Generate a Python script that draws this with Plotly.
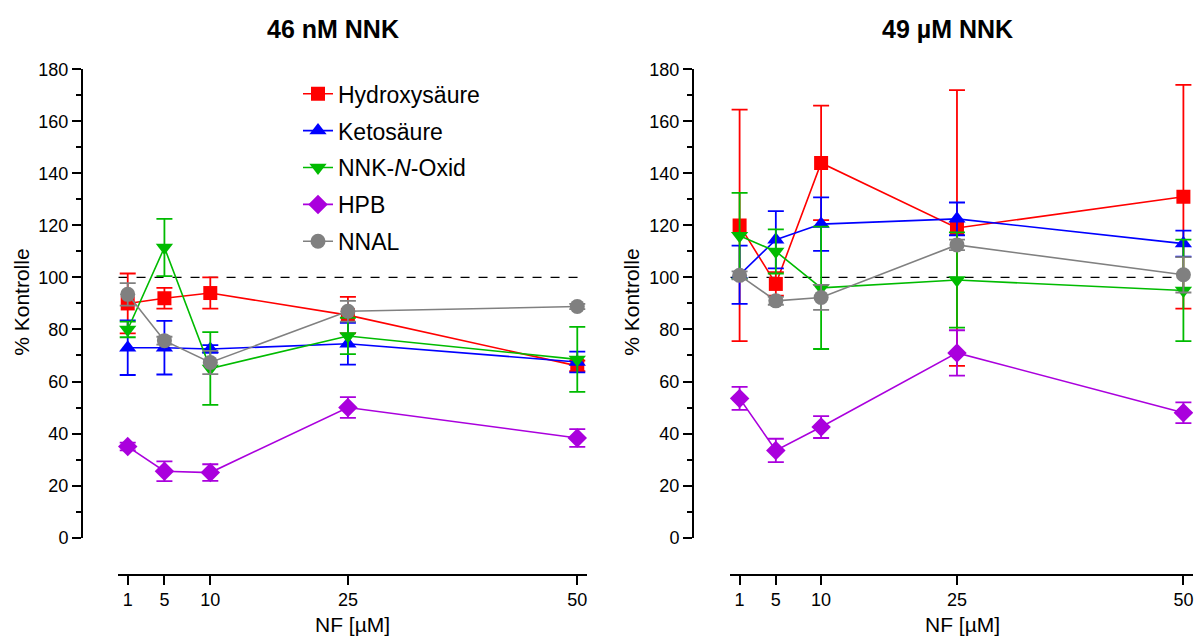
import plotly.graph_objects as go

W, H = 1203, 640

# ---------- data ----------
nf_conc = [1, 5, 10, 25, 50]
tick_labels = ["1", "5", "10", "25", "50"]
series_names = ["Hydroxysäure", "Ketosäure", "NNK-<i>N</i>-Oxid", "HPB", "NNAL"]
panel_titles = ["<b>46 nM NNK</b>", "<b>49 µM NNK</b>"]

# 46 nM NNK panel
low_hydroxy = [90, 92, 94, 85.5, 66]
low_hydroxy_err = [11.5, 4, 6, 7, 2]
low_keto = [73, 73, 72.5, 74.5, 67.5]
low_keto_err = [10.5, 10.3, 1.5, 8, 4]
low_oxid = [80, 111.5, 65, 77.5, 68.5]
low_oxid_err = [3, 11, 14, 7, 12.5]
low_hpb = [35, 25.5, 25, 50, 38.3]
low_hpb_err = [1.5, 3.8, 3.2, 4, 3.4]
low_nnal = [93.5, 75.7, 67.3, 87, 88.8]
low_nnal_err = [4.3, 1.5, 4.5, 4, 1]

# 49 µM NNK panel
high_hydroxy = [120, 97.5, 144, 119, 131]
high_hydroxy_err = [44.5, 4.5, 22, 53, 43]
high_keto = [101, 114.5, 120.5, 122.5, 113]
high_keto_err = [11.2, 11, 10.3, 6.3, 5]
high_oxid = [116, 110, 96, 99, 95]
high_oxid_err = [16.5, 8.5, 23.5, 18.3, 19.5]
high_hpb = [53.5, 33.5, 42.5, 71, 48]
high_hpb_err = [4.4, 4.5, 4.2, 8.7, 4]
high_nnal = [100.8, 91, 92.3, 112.5, 101]
high_nnal_err = [1.5, 1.5, 4.8, 2, 6.8]

control_level = 100

# ---------- styles ----------
colors = ["#FF0000", "#0000FF", "#00BB00", "#AA00DD", "#808080"]
symbols = ["square", "triangle-up", "triangle-down", "diamond", "circle"]
msizes = [14, 15, 15, 15, 15]

FONT = "Liberation Sans, Arial, sans-serif"

fig = go.Figure()

panels = [
    ("x", "y", [low_hydroxy, low_keto, low_oxid, low_hpb, low_nnal],
     [low_hydroxy_err, low_keto_err, low_oxid_err, low_hpb_err, low_nnal_err], True),
    ("x2", "y2", [high_hydroxy, high_keto, high_oxid, high_hpb, high_nnal],
     [high_hydroxy_err, high_keto_err, high_oxid_err, high_hpb_err, high_nnal_err], False),
]

for xa, ya, vals, errs, show in panels:
    for i, name in enumerate(series_names):
        fig.add_trace(go.Scatter(
            x=nf_conc, y=vals[i], name=name, xaxis=xa, yaxis=ya,
            mode="lines+markers", legendgroup=f"g{i}", showlegend=show,
            line=dict(color=colors[i], width=1.6),
            marker=dict(symbol=symbols[i], size=msizes[i], color=colors[i],
                        line=dict(width=0)),
            error_y=dict(type="data", array=errs[i], visible=True,
                         color=colors[i], thickness=1.8, width=8),
        ))

# layout positions given in figure pixels
def px_x(p):
    return p / W

def px_y(p):
    return 1 - p / H

xrange_ = [-0.06, 51.06]
ydom = [px_y(536.4), px_y(52.9)]

axis_common_x = dict(
    range=xrange_, tickmode="array", tickvals=nf_conc, ticktext=tick_labels,
    showline=True, linecolor="black", linewidth=2, ticks="outside", ticklen=9,
    tickwidth=1.5, tickcolor="black", showgrid=False, zeroline=False,
    tickfont=dict(family=FONT, size=18, color="black"),
    anchor="free", position=px_y(574.7),
)
axis_common_y = dict(
    range=[0, 180], domain=ydom, tickmode="linear", tick0=0, dtick=20,
    showline=True, linecolor="black", linewidth=2, ticks="outside", ticklen=9,
    tickwidth=1.5, tickcolor="black", showgrid=False, zeroline=False,
    minor=dict(dtick=10, ticklen=5, ticks="outside", tickwidth=1.5,
               tickcolor="black", showgrid=False),
    tickfont=dict(family=FONT, size=18, color="black"),
    anchor="free",
)

fig.update_layout(
    width=W, height=H,
    margin=dict(l=0, r=0, t=0, b=0),
    paper_bgcolor="white", plot_bgcolor="white",
    font=dict(family=FONT, color="black"),
    xaxis=dict(domain=[px_x(110), px_x(579)], **axis_common_x),
    xaxis2=dict(domain=[px_x(722), px_x(1185)], **axis_common_x),
    yaxis=dict(position=px_x(74), **axis_common_y),
    yaxis2=dict(position=px_x(685), **axis_common_y),
    legend=dict(x=px_x(290), y=px_y(56), xanchor="left", yanchor="top",
                bgcolor="rgba(0,0,0,0)", font=dict(family=FONT, size=23, color="black"),
                tracegroupgap=4, itemwidth=30),
    showlegend=True,
)

# control reference lines
fig.add_shape(type="line", xref="x", yref="y", x0=0, x1=50.2,
              y0=control_level, y1=control_level,
              line=dict(color="black", width=1.2, dash="dash"), layer="below")
fig.add_shape(type="line", xref="x2", yref="y2", x0=0, x1=51.06,
              y0=control_level, y1=control_level,
              line=dict(color="black", width=1.2, dash="dash"), layer="below")

annots = [
    dict(text=panel_titles[0], x=px_x(325), y=px_y(11), size=25),
    dict(text=panel_titles[1], x=px_x(939), y=px_y(11), size=25),
    dict(text="NF [µM]", x=px_x(344), y=px_y(626), size=21),
    dict(text="NF [µM]", x=px_x(954), y=px_y(626), size=21),
    dict(text="% Kontrolle", x=px_x(14), y=px_y(294), size=21, textangle=-90),
    dict(text="% Kontrolle", x=px_x(624), y=px_y(294), size=21, textangle=-90),
]
for a in annots:
    size = a.pop("size")
    fig.add_annotation(xref="paper", yref="paper", showarrow=False,
                       xanchor="center", yanchor="middle",
                       font=dict(family=FONT, size=size, color="black"), **a)

fig.write_html("out.html")
